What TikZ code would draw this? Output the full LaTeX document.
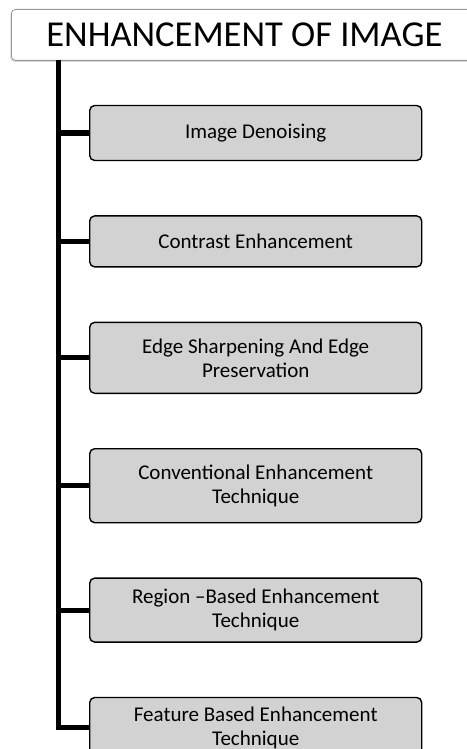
\documentclass[tikz,border=0pt]{standalone}
\usepackage{fontspec}
\setmainfont{Carlito}
\usetikzlibrary{positioning, shadows}

\begin{document}
\begin{tikzpicture}[
    x=1pt, y=1pt,
    node distance=54pt,
    headbox/.style={rectangle, draw=gray!80, fill=white, rounded corners=4pt, line width=0.8pt, minimum width=466pt, minimum height=51pt, font=\fontsize{36.5}{40}\selectfont, drop shadow={shadow xshift=-1pt, shadow yshift=-1.5pt, opacity=0.3}},
    box/.style={rectangle, draw, line width=1.4pt, fill=gray!35, rounded corners=5pt, minimum width=332pt, minimum height=53pt, align=center, font=\fontsize{21}{24}\selectfont},
    trunk/.style={line width=5pt}
]
\useasboundingbox (0,0) rectangle (466,-749);

\node[headbox, anchor=north west] (head) at (11,-9) {ENHANCEMENT OF IMAGE};
\node[box, minimum height=55pt, below right=44pt and 78pt of head.south west, anchor=north west] (denoise) {Image Denoising};
\node[box, minimum height=51pt, below=of denoise] (contrast) {Contrast Enhancement};
\node[box, minimum height=71pt, below=of contrast] (edge) {Edge Sharpening And Edge\\Preservation};
\node[box, minimum height=74pt, below=of edge] (conv) {Conventional Enhancement\\Technique};
\node[box, minimum height=64pt, below=of conv] (region) {Region --Based Enhancement\\Technique};
\node[box, minimum height=60pt, below=of region] (feature) {Feature Based Enhancement\\Technique};

\coordinate (spine) at (58,-60);
\draw[trunk] (spine) |- (feature.west);
\draw[trunk] (spine |- denoise.west) -- (denoise.west);
\draw[trunk] (spine |- contrast.west) -- (contrast.west);
\draw[trunk] (spine |- edge.west) -- (edge.west);
\draw[trunk] (spine |- conv.west) -- (conv.west);
\draw[trunk] (spine |- region.west) -- (region.west);
\end{tikzpicture}
\end{document}
